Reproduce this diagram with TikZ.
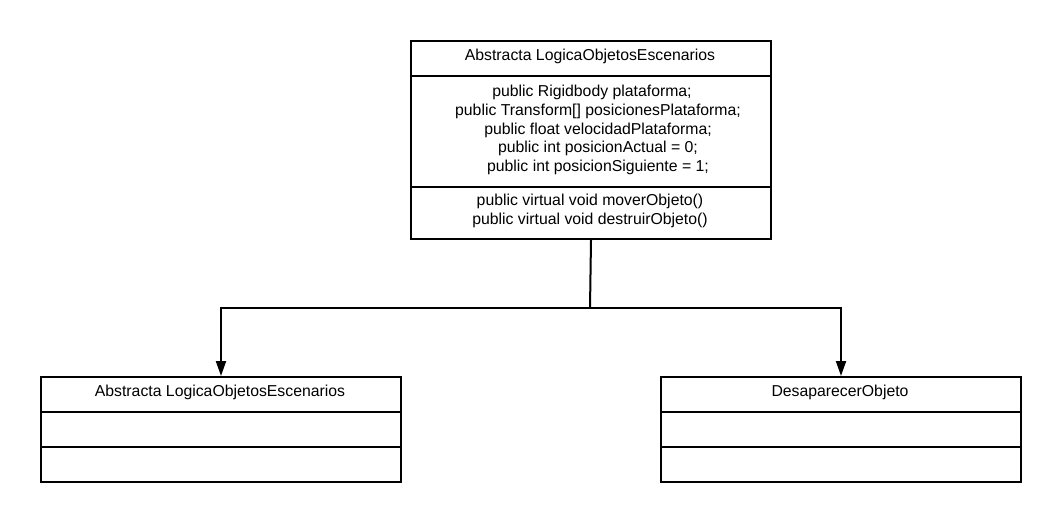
\documentclass[tikz,border=0pt]{standalone}
\usepackage{fontspec}
\setmainfont{Liberation Sans}
\usetikzlibrary{arrows.meta}
\begin{document}
\begin{tikzpicture}[x=1pt,y=-1pt,
  comp/.style={draw,line width=2pt,minimum width=360pt,inner sep=0pt,anchor=north west},
  lbl/.style={font=\fontsize{15.8pt}{18.7pt}\selectfont,align=center,inner sep=0pt},
  conn/.style={line width=2pt,-{Triangle[width=10pt,length=15pt]}}]
\useasboundingbox (0,0) rectangle (1060,521);
\fill[white] (0,0) rectangle (1060,521);
% top class
\node[comp,minimum height=35pt] (tname) at (410,40) {};
\node[comp,minimum height=111pt] (tattr) at (410,75) {};
\node[comp,minimum height=52pt] (tops) at (410,186) {};
\node[lbl] (tnameT) at (590,56) {Abstracta LogicaObjetosEscenarios};
\node[lbl] (tattrT) at (598,130) {public Rigidbody plataforma;\kern12pt\\public Transform[] posicionesPlataforma;\\public float velocidadPlataforma;\\public int posicionActual = 0;\\public int posicionSiguiente = 1;};
\node[lbl] (topsT) at (590,211) {public virtual void moverObjeto()\\public virtual void destruirObjeto()};
% left class
\node[comp,minimum height=35pt] (lname) at (40,376) {};
\node[comp,minimum height=35pt] (lattr) at (40,411) {};
\node[comp,minimum height=35pt] (lops) at (40,446) {};
\node[lbl] (lnameT) at (220,392) {Abstracta LogicaObjetosEscenarios};
% right class
\node[comp,minimum height=35pt] (rname) at (660,376) {};
\node[comp,minimum height=35pt] (rattr) at (660,411) {};
\node[comp,minimum height=35pt] (rops) at (660,446) {};
\node[lbl] (rnameT) at (840,392) {DesaparecerObjeto};
% connectors
\coordinate (split) at (590,308);
\draw[line width=2pt] (tops.south) -- (split);
\draw[conn] (split) -| (lname.north);
\draw[conn] (split) -| (rname.north);
\end{tikzpicture}
\end{document}
